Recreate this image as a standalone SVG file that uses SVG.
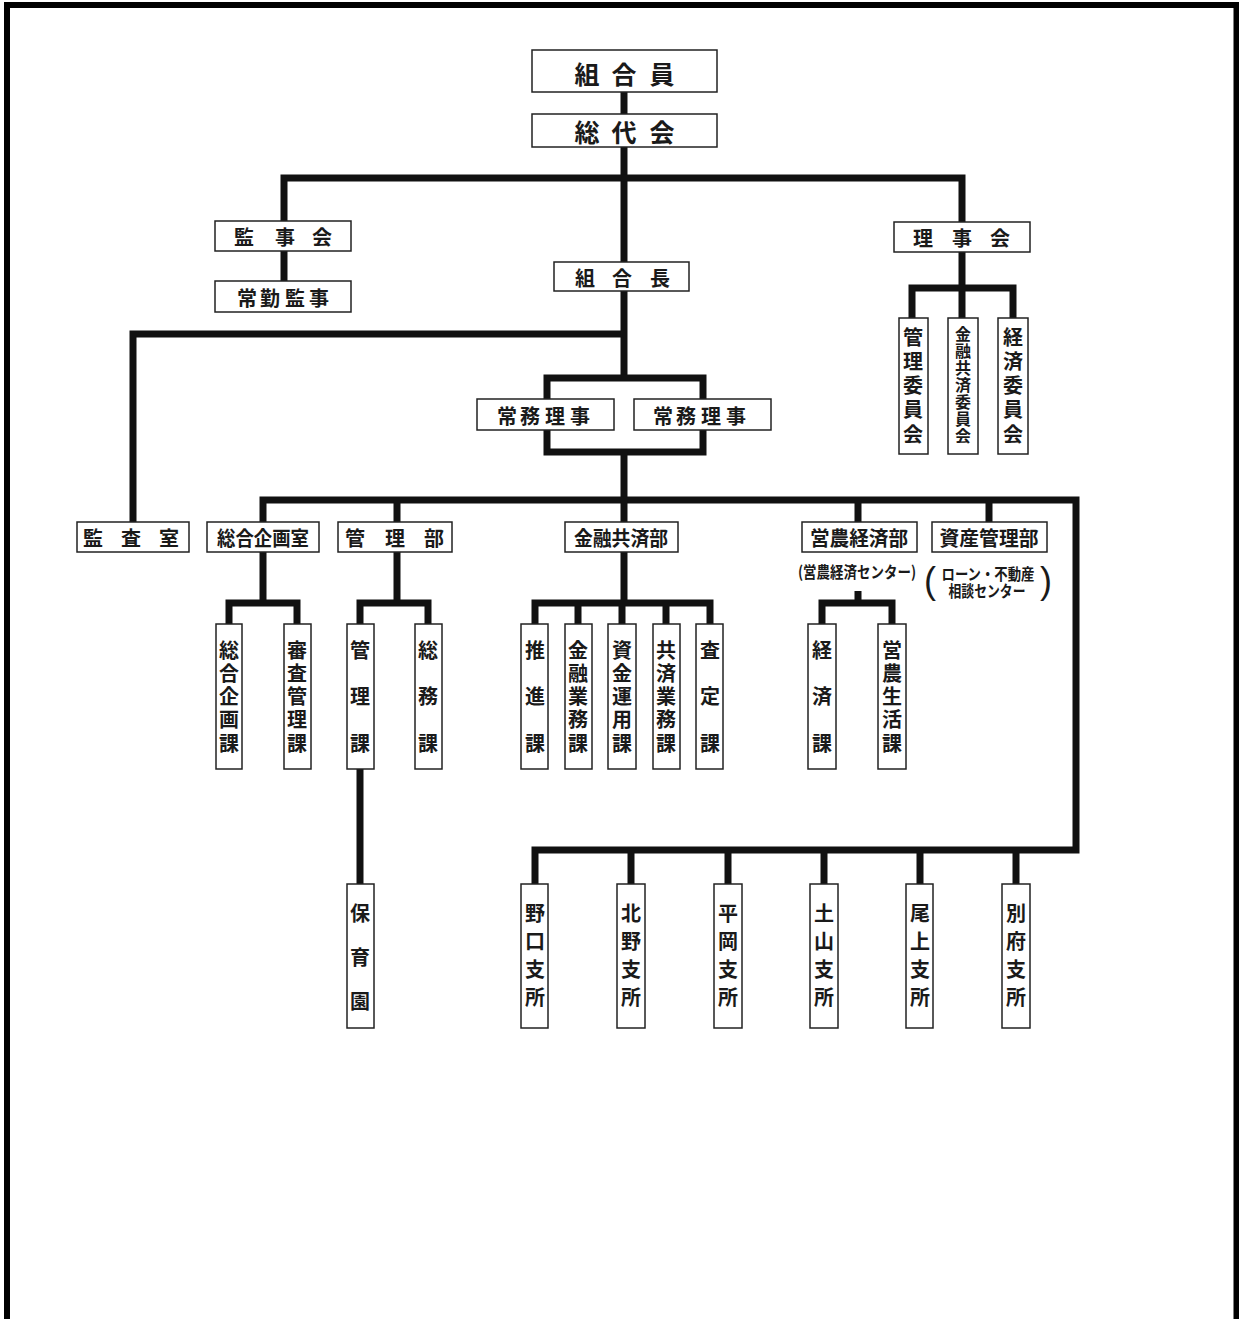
<svg xmlns="http://www.w3.org/2000/svg" width="1239" height="1319" viewBox="0 0 1239 1319">
<style>
.b{fill:#fff;stroke:#222;stroke-width:1.5}
.c{fill:none;stroke:#111;stroke-width:7;stroke-linejoin:miter;stroke-linecap:butt}
text{font-family:"Noto Sans CJK JP","Noto Sans CJK SC",sans-serif;font-weight:bold;fill:#1a1a1a;text-anchor:middle;dominant-baseline:central}
.t20{font-size:20px}
.t25{font-size:25px}
.v{font-size:20px;writing-mode:vertical-rl}
.v5{letter-spacing:3.25px}
.v3{letter-spacing:26.5px}
.v4{letter-spacing:8px}
.s{font-size:16px}
.p{font-family:"Liberation Sans",sans-serif;font-weight:normal;font-size:36px}
</style>
<rect x="0" y="0" width="1239" height="1319" fill="#fff"/>
<path d="M7,1319 V5 H1236.5 V1319" fill="none" stroke="#000" stroke-width="6"/>
<g id="connectors">
<path class="c" d="M624,92 V114"/>
<path class="c" d="M624,147 V262"/>
<path class="c" d="M284,221 V178 H962 V222"/>
<path class="c" d="M284,251 V281"/>
<path class="c" d="M962,252 V318"/>
<path class="c" d="M912,318 V288 H1013 V318"/>
<path class="c" d="M624,291 V378"/>
<path class="c" d="M133,522 V334 H624"/>
<rect class="c" x="547" y="378" width="156" height="74"/>
<path class="c" d="M624,452 V500"/>
<path class="c" d="M263,522 V500 H1076 V850 H535 V884"/>
<path class="c" d="M397,500 V522 M624,500 V522 M858,500 V522 M989,500 V522"/>
<path class="c" d="M263,552 V603 M229,624 V603 H297 V624"/>
<path class="c" d="M397,552 V603 M360,624 V603 H428 V624"/>
<path class="c" d="M624,552 V603 M535,624 V603 H710 V624 M578,603 V624 M622,603 V624 M666,603 V624"/>
<path class="c" d="M858,591 V603 M822,624 V603 H892 V624"/>
<path class="c" d="M360,769 V884"/>
<path class="c" d="M631,850 V884 M728,850 V884 M824,850 V884 M920,850 V884 M1016,850 V884"/>
</g>
<g id="n-kumiaiin"><rect class="b" x="532" y="50" width="185" height="42"/><text class="t25" y="73"><tspan x="587">組</tspan><tspan x="624">合</tspan><tspan x="662">員</tspan></text></g>
<g id="n-soudaikai"><rect class="b" x="532" y="114" width="185" height="33"/><text class="t25" y="131"><tspan x="587">総</tspan><tspan x="624">代</tspan><tspan x="662">会</tspan></text></g>
<g id="n-kanjikai"><rect class="b" x="215" y="221" width="136" height="30"/><text class="t20" y="236"><tspan x="244">監</tspan><tspan x="285">事</tspan><tspan x="322">会</tspan></text></g>
<g id="n-joukin"><rect class="b" x="215" y="281" width="136" height="31"/><text class="t20" y="297"><tspan x="247">常</tspan><tspan x="270">勤</tspan><tspan x="295">監</tspan><tspan x="319">事</tspan></text></g>
<g id="n-rijikai"><rect class="b" x="894" y="222" width="136" height="30"/><text class="t20" y="237"><tspan x="923">理</tspan><tspan x="962">事</tspan><tspan x="1000">会</tspan></text></g>
<g id="n-kumiaichou"><rect class="b" x="554" y="262" width="135" height="29"/><text class="t20" y="277"><tspan x="585">組</tspan><tspan x="622">合</tspan><tspan x="660">長</tspan></text></g>
<g id="n-kanri-iinkai"><rect class="b" x="899" y="318" width="29" height="136"/><text class="v" style="letter-spacing:4.25px" x="913" y="387.6">管理委員会</text></g>
<g id="n-kinyu-iinkai"><rect class="b" x="948" y="318" width="30" height="136"/><text class="v" style="font-size:16px;letter-spacing:1px" x="963" y="385.5">金融共済委員会</text></g>
<g id="n-keizai-iinkai"><rect class="b" x="998" y="318" width="30" height="136"/><text class="v" style="letter-spacing:4.25px" x="1013" y="387.6">経済委員会</text></g>
<g id="n-joumu1"><rect class="b" x="477" y="399" width="137" height="31"/><text class="t20" y="415"><tspan x="507">常</tspan><tspan x="530">務</tspan><tspan x="555">理</tspan><tspan x="580">事</tspan></text></g>
<g id="n-joumu2"><rect class="b" x="634" y="399" width="137" height="31"/><text class="t20" y="415"><tspan x="663">常</tspan><tspan x="686">務</tspan><tspan x="711">理</tspan><tspan x="736">事</tspan></text></g>
<g id="n-kansashitsu"><rect class="b" x="77" y="522" width="112" height="30"/><text class="t20" y="537"><tspan x="93">監</tspan><tspan x="131">査</tspan><tspan x="169">室</tspan></text></g>
<g id="n-sougoukikaku"><rect class="b" x="207" y="522" width="112" height="30"/><text class="t20" x="263" y="537" textLength="92" lengthAdjust="spacingAndGlyphs">総合企画室</text></g>
<g id="n-kanribu"><rect class="b" x="338" y="522" width="114" height="30"/><text class="t20" y="537"><tspan x="355">管</tspan><tspan x="395">理</tspan><tspan x="434">部</tspan></text></g>
<g id="n-kinyukyosaibu"><rect class="b" x="565" y="522" width="113" height="30"/><text class="t20" x="621" y="537" textLength="94" lengthAdjust="spacingAndGlyphs">金融共済部</text></g>
<g id="n-einoukeizaibu"><rect class="b" x="802" y="522" width="115" height="30"/><text class="t20" x="859" y="537" textLength="98" lengthAdjust="spacingAndGlyphs">営農経済部</text><text class="s" x="857" y="571" textLength="118" lengthAdjust="spacingAndGlyphs">(営農経済センター)</text></g>
<g id="n-shisankanribu"><rect class="b" x="932" y="522" width="115" height="30"/><text class="t20" x="989" y="537" textLength="99" lengthAdjust="spacingAndGlyphs">資産管理部</text><text class="s"><tspan class="p" x="930" y="580">(</tspan><tspan x="988" y="573" textLength="93" lengthAdjust="spacingAndGlyphs">ローン・不動産</tspan><tspan x="987" y="590" textLength="77" lengthAdjust="spacingAndGlyphs">相談センター</tspan><tspan class="p" x="1046" y="580">)</tspan></text></g>
<g id="n-sougoukikakuka"><rect class="b" x="216" y="624" width="26" height="145"/><text class="v v5" x="229" y="698.1">総合企画課</text></g>
<g id="n-shinsakanrika"><rect class="b" x="284" y="624" width="27" height="145"/><text class="v v5" x="297" y="698.1">審査管理課</text></g>
<g id="n-kanrika"><rect class="b" x="347" y="624" width="27" height="145"/><text class="v v3" x="360" y="709.75">管理課</text></g>
<g id="n-soumuka"><rect class="b" x="415" y="624" width="27" height="145"/><text class="v v3" x="428" y="709.75">総務課</text></g>
<g id="n-suishinka"><rect class="b" x="521" y="624" width="27" height="145"/><text class="v v3" x="535" y="709.75">推進課</text></g>
<g id="n-kinyugyoumuka"><rect class="b" x="565" y="624" width="27" height="145"/><text class="v v5" x="578" y="698.1">金融業務課</text></g>
<g id="n-shikinunyouka"><rect class="b" x="608" y="624" width="28" height="145"/><text class="v v5" x="622" y="698.1">資金運用課</text></g>
<g id="n-kyosaigyoumuka"><rect class="b" x="653" y="624" width="27" height="145"/><text class="v v5" x="666" y="698.1">共済業務課</text></g>
<g id="n-sateika"><rect class="b" x="696" y="624" width="27" height="145"/><text class="v v3" x="710" y="709.75">査定課</text></g>
<g id="n-keizaika"><rect class="b" x="808" y="624" width="28" height="145"/><text class="v v3" x="822" y="709.75">経済課</text></g>
<g id="n-einouseikatsuka"><rect class="b" x="878" y="624" width="28" height="145"/><text class="v v5" x="892" y="698.1">営農生活課</text></g>
<g id="n-hoikuen"><rect class="b" x="347" y="884" width="27" height="144"/><text class="v" style="letter-spacing:24px" x="360" y="969">保育園</text></g>
<g id="n-noguchi"><rect class="b" x="521" y="884" width="27" height="144"/><text class="v v4" x="535" y="959">野口支所</text></g>
<g id="n-kitano"><rect class="b" x="617" y="884" width="28" height="144"/><text class="v v4" x="631" y="959">北野支所</text></g>
<g id="n-hiraoka"><rect class="b" x="714" y="884" width="28" height="144"/><text class="v v4" x="728" y="959">平岡支所</text></g>
<g id="n-tsuchiyama"><rect class="b" x="810" y="884" width="28" height="144"/><text class="v v4" x="824" y="959">土山支所</text></g>
<g id="n-onoe"><rect class="b" x="906" y="884" width="27" height="144"/><text class="v v4" x="920" y="959">尾上支所</text></g>
<g id="n-beppu"><rect class="b" x="1002" y="884" width="28" height="144"/><text class="v v4" x="1016" y="959">別府支所</text></g>
</svg>
